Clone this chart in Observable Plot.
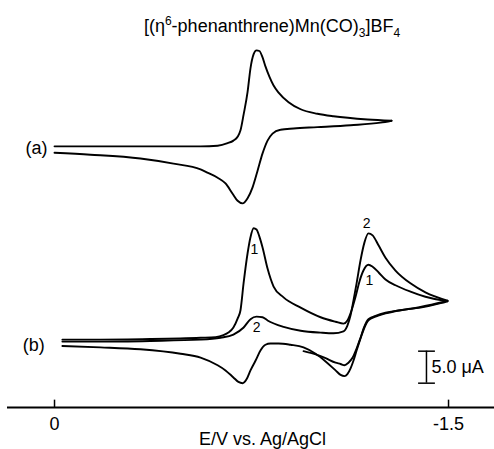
<!DOCTYPE html>
<html>
<head>
<meta charset="utf-8">
<script src="https://cdn.jsdelivr.net/npm/d3@7"></script>
<script src="https://cdn.jsdelivr.net/npm/@observablehq/plot@0.6"></script>
<style>
  body { margin: 0; background: #fff; }
  #wrap { position: relative; width: 494px; height: 449px; font-family: "Liberation Sans", Arial, sans-serif; color: #000; }
  #title { position: absolute; top: 17px; left: 272px; transform: translateX(-50%); font-size: 18px; line-height: 18px; white-space: nowrap; }
  #title sup, #title sub { font-size: 12px; line-height: 0; }
  #chart svg { display: block; }
</style>
</head>
<body>
<div id="wrap">
  <div id="chart"></div>
  <div id="title">[(η<sup>6</sup>-phenanthrene)Mn(CO)<sub>3</sub>]BF<sub>4</sub></div>
</div>
<script>
// ---- Data (E in V vs Ag/AgCl, I in µA on a common vertical scale) ----
// Trace (a): forward scan, reverse scan
const aFwdE = [0, -0.175, -0.365, -0.556, -0.621, -0.659, -0.681, -0.697, -0.708, -0.720, -0.735, -0.746, -0.758, -0.769, -0.780, -0.792, -0.803, -0.818, -0.834, -0.853, -0.891, -0.937, -1.001, -1.062, -1.192, -1.283];
const aFwdI = [40.8, 40.8, 40.8, 40.8, 40.9, 41.3, 41.7, 42.3, 43.3, 45.8, 49.3, 53.0, 55.2, 55.8, 55.7, 54.7, 53.3, 51.7, 50.3, 49.2, 47.7, 46.6, 45.9, 45.5, 45.0, 44.8];
const aRevE = [-1.283, -1.241, -1.127, -1.001, -0.910, -0.860, -0.830, -0.811, -0.792, -0.773, -0.754, -0.735, -0.716, -0.697, -0.678, -0.651, -0.621, -0.582, -0.556, -0.453, -0.327, -0.137, 0];
const aRevI = [44.8, 44.5, 44.1, 43.8, 43.6, 43.4, 42.8, 41.7, 39.7, 37.0, 34.4, 32.7, 31.9, 32.3, 33.4, 35.0, 35.9, 36.7, 37.2, 38.1, 38.9, 39.5, 39.8];

// Trace (b), cycle 1
const b1FwdE = [-0.030, -0.175, -0.365, -0.556, -0.613, -0.643, -0.662, -0.681, -0.697, -0.708, -0.720, -0.735, -0.746, -0.758, -0.769, -0.780, -0.792, -0.811, -0.834, -0.872, -0.937, -1.013, -1.070, -1.100, -1.115, -1.131, -1.146, -1.161, -1.176, -1.195, -1.211, -1.234, -1.260, -1.298, -1.355, -1.412, -1.496];
const b1FwdI = [10.6, 10.6, 10.7, 10.9, 11.0, 11.3, 11.7, 12.5, 13.9, 15.2, 19.5, 24.1, 26.6, 28.0, 27.8, 26.7, 25.0, 21.7, 18.9, 17.2, 15.6, 14.1, 13.4, 13.1, 13.6, 15.2, 17.3, 19.7, 21.4, 22.3, 22.0, 21.1, 20.0, 19.1, 18.1, 17.3, 16.6];
const b1RevE = [-1.496, -1.470, -1.393, -1.317, -1.260, -1.222, -1.195, -1.180, -1.165, -1.150, -1.138, -1.127, -1.115, -1.104, -1.089, -1.070, -1.032, -0.994, -0.948, -0.898, -0.853, -0.822, -0.803, -0.784, -0.765, -0.746, -0.731, -0.716, -0.700, -0.681, -0.651, -0.621, -0.556, -0.480, -0.327, -0.175, -0.030];
const b1RevI = [16.6, 16.3, 15.6, 15.2, 14.7, 14.2, 13.6, 12.5, 10.8, 8.9, 7.3, 6.1, 5.2, 4.9, 5.1, 5.8, 7.2, 8.4, 9.4, 9.8, 10.0, 10.0, 9.8, 8.9, 7.3, 5.8, 4.4, 3.8, 4.0, 4.7, 5.8, 6.6, 7.8, 8.4, 9.1, 9.4, 9.6];

// Trace (b), cycle 2 (reverse scan stops part way)
const b2FwdE = [-0.030, -0.175, -0.365, -0.556, -0.632, -0.681, -0.720, -0.746, -0.769, -0.792, -0.811, -0.872, -0.937, -1.013, -1.062, -1.100, -1.115, -1.127, -1.138, -1.150, -1.165, -1.180, -1.195, -1.211, -1.234, -1.260, -1.298, -1.355, -1.412, -1.496];
const b2FwdI = [10.3, 10.3, 10.4, 10.6, 10.9, 11.4, 12.5, 13.8, 14.2, 14.1, 13.6, 12.6, 12.0, 11.7, 11.6, 11.9, 12.8, 14.4, 16.7, 19.4, 23.0, 25.8, 27.2, 26.9, 25.3, 23.4, 21.4, 19.4, 18.0, 16.7];
const b2RevE = [-1.496, -1.470, -1.393, -1.317, -1.260, -1.222, -1.195, -1.180, -1.165, -1.150, -1.135, -1.119, -1.104, -1.089, -1.070, -1.032, -0.994, -0.948];
const b2RevI = [16.7, 16.4, 15.7, 15.2, 14.8, 14.3, 13.8, 12.7, 10.9, 9.2, 7.8, 7.0, 6.6, 6.8, 7.0, 7.7, 8.3, 8.8];

// Axis
const xDomain = [0.179, -1.675];
const yDomain = [0, 63.59];
const tickValues = [0, -1.5];
const axisTitle = ["E/V vs. Ag/AgCl"];
const axisTitleE = [-0.792];
const axisTitleI = [-5.0];

// Annotations
const traceLabels = ["(a)", "(b)"];
const traceLabelE = [0.0685, 0.079];
const traceLabelI = [40.5, 9.8];
const cycleLabels = ["1", "2", "2", "1"];
const cycleLabelE = [-0.761, -0.769, -1.188, -1.199];
const cycleLabelI = [24.7, 12.5, 28.8, 19.8];

// Scale bar (5.0 µA)
const scaleBarE = -1.416;
const scaleBarI = [3.8, 8.8];
const scaleCapE = [-1.386, -1.450];
const scaleLabel = ["5.0 μA"];
const scaleLabelE = [-1.435];
const scaleLabelI = [6.3];

// ---- Build tables ----
const seg = (name, es, is) => es.map((e, i) => ({seg: name, E: e, I: is[i]}));
const traces = [
  ...seg("aF", aFwdE, aFwdI), ...seg("aR", aRevE, aRevI),
  ...seg("b1F", b1FwdE, b1FwdI), ...seg("b1R", b1RevE, b1RevI),
  ...seg("b2F", b2FwdE, b2FwdI), ...seg("b2R", b2RevE, b2RevI)
];
const rowsOf = (texts, es, is) => texts.map((t, i) => ({t, E: es[i], I: is[i]}));

const font = "Liberation Sans, Arial, Helvetica, sans-serif";

const chart = Plot.plot({
  width: 494,
  height: 449,
  marginLeft: 7,
  marginRight: 0,
  marginTop: 0,
  marginBottom: 42,
  x: {domain: xDomain, axis: null},
  y: {domain: yDomain, axis: null},
  style: {fontFamily: font, background: "white", color: "black", overflow: "visible"},
  marks: [
    Plot.line(traces, {x: "E", y: "I", z: "seg", stroke: "black", strokeWidth: 1.9, curve: "monotone-x", strokeLinejoin: "miter"}),
    // axis
    Plot.ruleY([0], {stroke: "black", strokeWidth: 2}),
    Plot.ruleX(tickValues, {y1: 0, y2: 1.15, stroke: "black", strokeWidth: 1.5}),
    Plot.axisX({ticks: tickValues, tickSize: 0, tickPadding: 10, fontSize: 18, label: null, tickFormat: d => String(d)}),
    Plot.text(rowsOf(axisTitle, axisTitleE, axisTitleI), {x: "E", y: "I", text: "t", fontSize: 18, fill: "black"}),
    // labels
    Plot.text(rowsOf(traceLabels, traceLabelE, traceLabelI), {x: "E", y: "I", text: "t", fontSize: 18, fill: "black"}),
    Plot.text(rowsOf(cycleLabels, cycleLabelE, cycleLabelI), {x: "E", y: "I", text: "t", fontSize: 14, fill: "black"}),
    // scale bar
    Plot.ruleX([scaleBarE], {y1: scaleBarI[0], y2: scaleBarI[1], stroke: "black", strokeWidth: 1.5}),
    Plot.ruleY(scaleBarI, {x1: scaleCapE[0], x2: scaleCapE[1], stroke: "black", strokeWidth: 1.5}),
    Plot.text(rowsOf(scaleLabel, scaleLabelE, scaleLabelI), {x: "E", y: "I", text: "t", fontSize: 18, textAnchor: "start", fill: "black"})
  ]
});
document.getElementById("chart").appendChild(chart);
</script>
</body>
</html>
